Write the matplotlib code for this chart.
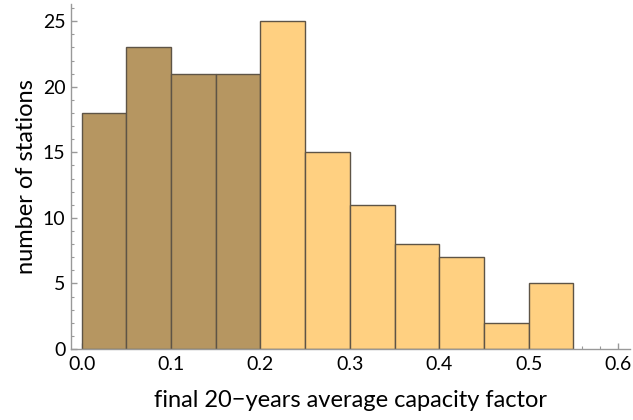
import numpy as np
import matplotlib.pyplot as plt
from matplotlib.ticker import MultipleLocator

bin_edges = [0.0, 0.05, 0.1, 0.15, 0.2, 0.25, 0.3, 0.35, 0.4, 0.45, 0.5, 0.55]
counts = [18, 23, 21, 21, 25, 15, 11, 8, 7, 2, 5]
n_dark = 4  # bins below 0.2 drawn darker

plt.rcParams['font.family'] = ['Lato', 'DejaVu Sans']

fig = plt.figure(figsize=(6.33, 4.2), dpi=100)
ax = fig.add_axes([0.112, 0.169, 0.883, 0.821])

lefts = np.array(bin_edges[:-1])
widths = np.diff(bin_edges)
colors = ['#b69661'] * n_dark + ['#ffd081'] * (len(counts) - n_dark)
ax.bar(lefts, counts, width=widths, align='edge', color=colors,
       edgecolor='#5e5446', linewidth=1.0, zorder=2)

ax.set_xlim(-0.012, 0.613)
ax.set_ylim(0, 26.3)

for s in ['top', 'right']:
    ax.spines[s].set_visible(False)
for s in ['left', 'bottom']:
    ax.spines[s].set_color('#999999')
    ax.spines[s].set_linewidth(1.0)

ax.xaxis.set_major_locator(MultipleLocator(0.1))
ax.xaxis.set_minor_locator(MultipleLocator(0.02))
ax.yaxis.set_major_locator(MultipleLocator(5))
ax.yaxis.set_minor_locator(MultipleLocator(1))
ax.xaxis.set_major_formatter(lambda v, p: f"{v:.1f}")

ax.tick_params(which='both', direction='in', color='#999999', labelsize=14)
ax.tick_params(which='major', length=4, width=1)
ax.tick_params(which='minor', length=2.5, width=0.8)
ax.tick_params(axis='x', pad=5)
ax.tick_params(axis='y', pad=4)

ax.set_xlabel('final 20\u2212years average capacity factor', fontsize=17, labelpad=12)
ax.set_ylabel('number of stations', fontsize=17, labelpad=4)

fig.savefig('out.png', dpi=100)
